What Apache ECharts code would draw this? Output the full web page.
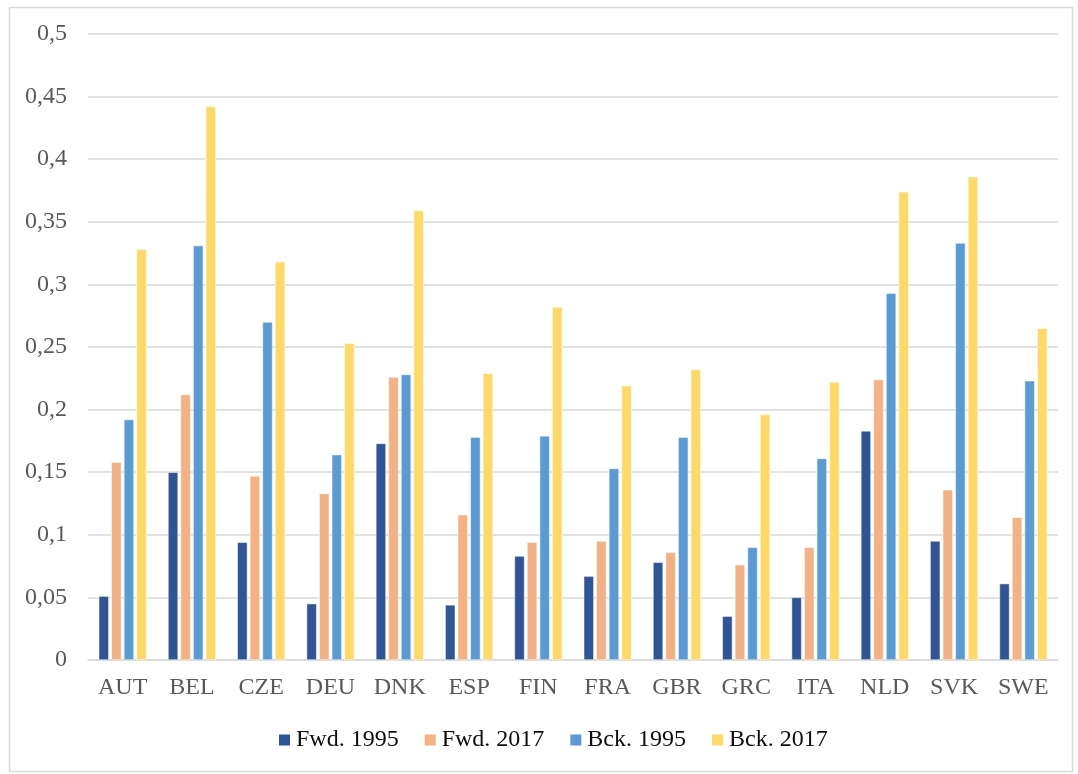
<!DOCTYPE html>
<html>
<head>
<meta charset="utf-8">
<script src="https://cdn.jsdelivr.net/npm/echarts@6/dist/echarts.min.js"></script>
<style>
  html, body { margin: 0; padding: 0; background: #fff; }
  #chart { width: 1078px; height: 774px; }
</style>
</head>
<body>
<div id="chart"></div>
<script>
// Country codes along the category axis
const countries = ['AUT', 'BEL', 'CZE', 'DEU', 'DNK', 'ESP', 'FIN', 'FRA', 'GBR', 'GRC', 'ITA', 'NLD', 'SVK', 'SWE'];

// Series values per country
const fwd1995 = [0.051, 0.150, 0.094, 0.045, 0.173, 0.044, 0.083, 0.067, 0.078, 0.035, 0.050, 0.183, 0.095, 0.061];
const fwd2017 = [0.158, 0.212, 0.147, 0.133, 0.226, 0.116, 0.094, 0.095, 0.086, 0.076, 0.090, 0.224, 0.136, 0.114];
const bck1995 = [0.192, 0.331, 0.270, 0.164, 0.228, 0.178, 0.179, 0.153, 0.178, 0.090, 0.161, 0.293, 0.333, 0.223];
const bck2017 = [0.328, 0.442, 0.318, 0.253, 0.359, 0.229, 0.282, 0.219, 0.232, 0.196, 0.222, 0.374, 0.386, 0.265];

const seriesNames = ['Fwd. 1995', 'Fwd. 2017', 'Bck. 1995', 'Bck. 2017'];
const seriesData = [fwd1995, fwd2017, bck1995, bck2017];
const seriesColors = ['#2F5597', '#F4B183', '#5B9BD5', '#FFD966'];

const chart = echarts.init(document.getElementById('chart'));

const serifFont = '"Liberation Serif", "Times New Roman", serif';

chart.setOption({
  animation: false,
  backgroundColor: '#ffffff',
  graphic: [{
    type: 'rect',
    left: 7,
    top: 5,
    shape: { width: 1063, height: 764 },
    style: { fill: 'none', stroke: '#d9d9d9', lineWidth: 1.5 },
    silent: true
  }],
  grid: {
    left: 88,
    right: 20,
    top: 34,
    bottom: 114,
    containLabel: false
  },
  legend: {
    top: 723,
    left: 272,
    itemWidth: 13,
    itemHeight: 13,
    itemGap: 24,
    icon: 'rect',
    textStyle: { fontFamily: serifFont, fontSize: 24, color: '#0d0d0d' },
    data: seriesNames
  },
  xAxis: {
    type: 'category',
    data: countries,
    axisLine: { show: true, lineStyle: { color: '#d9d9d9', width: 1.5 } },
    axisTick: { show: false },
    axisLabel: { fontFamily: serifFont, fontSize: 24, color: '#595959', margin: 16 }
  },
  yAxis: {
    type: 'value',
    min: 0,
    max: 0.5,
    interval: 0.05,
    axisLine: { show: false },
    axisTick: { show: false },
    splitLine: { lineStyle: { color: '#d9d9d9', width: 1.5 } },
    axisLabel: {
      fontFamily: serifFont,
      fontSize: 24,
      color: '#595959',
      margin: 21,
      formatter: v => String(+v.toFixed(2)).replace('.', ',')
    }
  },
  series: seriesNames.map((name, i) => ({
    name: name,
    type: 'bar',
    data: seriesData[i],
    barGap: '25%',
    barCategoryGap: '31%',
    itemStyle: { color: seriesColors[i], borderColor: '#ffffff', borderWidth: 0.5 }
  }))
});
</script>
</body>
</html>
